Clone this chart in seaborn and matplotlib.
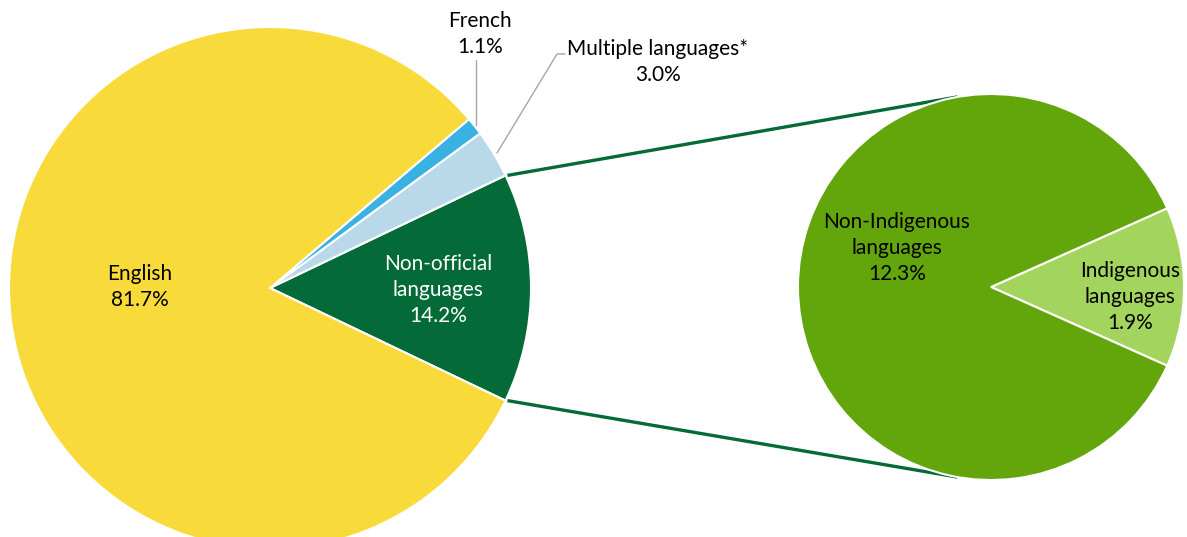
import matplotlib.pyplot as plt
import numpy as np
import seaborn as sns

# main pie: share of population by language spoken most often at home
main_labels = ['Non-official\nlanguages', 'Multiple languages*', 'French', 'English']
main_values = [14.2, 3.0, 1.1, 81.7]
main_colors = ['#046A38', '#B9D9EA', '#3AB1E3', '#F9DA3B']

# breakdown of non-official languages
sub_labels = ['Indigenous\nlanguages', 'Non-Indigenous\nlanguages']
sub_values = [1.9, 12.3]
sub_colors = ['#A3D45D', '#63A60B']

W, H = 1187, 537


def py(y):
    # pixel row (from top) -> data y
    return H - y


sns.set_theme(style='white')
plt.rcParams['font.family'] = ['Lato', 'DejaVu Sans']

fig = plt.figure(figsize=(W / 100, H / 100), dpi=100)
ax = fig.add_axes([0, 0, 1, 1])

c1, r1 = (270, py(288)), 261
c2, r2 = (991, py(287)), 193

half1 = main_values[0] / sum(main_values) * 180
ax.pie(main_values, colors=main_colors, startangle=-half1, counterclock=True,
       center=c1, radius=r1, frame=True,
       wedgeprops=dict(edgecolor='white', linewidth=1.5))

half2 = sub_values[0] / sum(sub_values) * 180
ax.pie(sub_values, colors=sub_colors, startangle=-half2, counterclock=True,
       center=c2, radius=r2, frame=True,
       wedgeprops=dict(edgecolor='white', linewidth=1.5))
ax.set_xlim(0, W)
ax.set_ylim(0, H)
ax.set_aspect('equal')
ax.axis('off')

# connector lines from the non-official wedge to the second pie
a = np.deg2rad(half1)
b = np.deg2rad(100)
for s in (1, -1):
    x0 = c1[0] + r1 * np.cos(a) + 2
    y0 = c1[1] + s * r1 * np.sin(a)
    x1 = c2[0] + r2 * np.cos(b)
    y1 = c2[1] + s * r2 * np.sin(b)
    ax.plot([x0, x1], [y0, y1], color='#046A38', lw=2.4, zorder=0,
            solid_capstyle='butt')

fs = 15
ls = 1.38
pct = lambda v: f'{v:.1f}%'

ax.text(140, py(287), f'{main_labels[3]}\n{pct(main_values[3])}', ha='center', va='center',
        fontsize=fs, color='black', linespacing=ls)
ax.text(438, py(290), f'{main_labels[0]}\n{pct(main_values[0])}', ha='center', va='center',
        fontsize=fs, color='white', linespacing=ls)
ax.text(897, py(248), f'{sub_labels[1]}\n{pct(sub_values[1])}', ha='center', va='center',
        fontsize=fs, color='black', linespacing=ls)
ax.text(1130, py(297), f'{sub_labels[0]}\n{pct(sub_values[0])}', ha='center', va='center',
        fontsize=fs, color='black', linespacing=ls)

# outside labels with leader lines
ax.text(480, py(34), f'{main_labels[2]}\n{pct(main_values[2])}', ha='center', va='center',
        fontsize=fs, color='black', linespacing=ls)
ax.plot([476, 476], [py(60), py(125)], color='#A6A6A6', lw=1)

ax.text(658, py(62), f'{main_labels[1]}\n{pct(main_values[1])}', ha='center', va='center',
        fontsize=fs, color='black', linespacing=ls)
ax.plot([497, 557, 565], [py(153), py(54), py(54)], color='#A6A6A6', lw=1)

fig.savefig('out.png', dpi=100)
